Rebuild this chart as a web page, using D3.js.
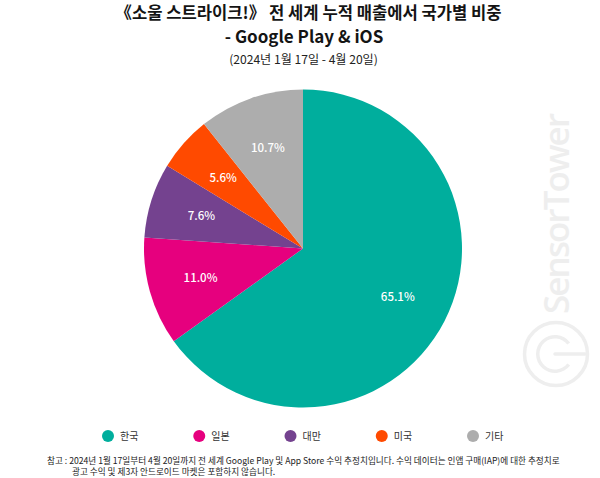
<!DOCTYPE html>
<html><head><meta charset="utf-8">
<script src="https://cdn.jsdelivr.net/npm/d3@7/dist/d3.min.js"></script>
<style>html,body{margin:0;padding:0;background:#fff}svg{display:block}text{font-family:"Noto Sans CJK KR","Noto Sans",sans-serif}</style>
</head><body><svg id="c" width="600" height="478"></svg>
<script>
const categories=["한국","일본","대만","미국","기타"];
const values=[65.1,11.0,7.6,5.6,10.7];
const colors=["#00ae9d","#e6007e","#74428f","#ff4a00","#adadad"];
const titleLines=["《소울 스트라이크!》 전 세계 누적 매출에서 국가별 비중","- Google Play & iOS"];
const subtitle="(2024년 1월 17일 - 4월 20일)";
const noteLines=["참고 : 2024년 1월 17일부터 4월 20일까지 전 세계 Google Play 및 App Store 수익 추정치입니다. 수익 데이터는 인앱 구매(IAP)에 대한 추정치로","광고 수익 및 제3자 안드로이드 마켓은 포함하지 않습니다."];

const svg=d3.select("#c");
// watermark
const wmc="#eeeeee";
const wm=svg.append("g").attr("fill","none").attr("stroke",wmc);
wm.append("circle").attr("cx",556).attr("cy",354).attr("r",31.5).attr("stroke-width",3.5);
wm.append("path").attr("d",d3.arc()({innerRadius:15.5,outerRadius:19,startAngle:0.65,endAngle:5.63})).attr("transform","translate(555,354) rotate(90)").attr("fill",wmc).attr("stroke","none");
wm.append("path").attr("d","M555 354H585").attr("stroke-width",3.5).attr("stroke-linecap","round");
svg.append("text").attr("transform","translate(569,314) rotate(-90)").attr("font-size",35).attr("font-weight",600).attr("fill",wmc).attr("textLength",201).style("font-family","'Open Sans'").text("SensorTower");

// titles
svg.selectAll("text.t").data(titleLines).join("text").attr("class","t").attr("x",(d,i)=>i?304:308.5).attr("y",(d,i)=>19+i*24)
 .attr("text-anchor","middle").attr("font-size",(d,i)=>i?17:16.6).attr("font-weight",700).attr("fill","#141414").text(d=>d);
svg.append("text").attr("x",303.5).attr("y",64).attr("text-anchor","middle").attr("font-size",12.1).attr("fill","#222").text(subtitle);

// pie
const cx=303,cy=248.5,r=159;
const pie=d3.pie().value(d=>d).sort(null);
const arc=d3.arc().innerRadius(0).outerRadius(r);
const g=svg.append("g").attr("transform",`translate(${cx},${cy})`);
const arcs=pie(values);
g.selectAll("path").data(arcs).join("path").attr("d",arc).attr("fill",(d,i)=>colors[i]);
const lab=d3.arc().innerRadius(r*0.67).outerRadius(r*0.67);
g.selectAll("text").data(arcs).join("text").attr("transform",d=>`translate(${lab.centroid(d)})`)
 .attr("text-anchor","middle").attr("dy","0.35em").attr("font-size",11.5).attr("font-weight",500).attr("fill","#fff").text(d=>d.value.toFixed(1)+"%");

// legend
const lx=d3.scalePoint().domain(categories).range([108,473]);
const lg=svg.append("g").selectAll("g").data(categories).join("g").attr("transform",d=>`translate(${lx(d)},436)`);
lg.append("circle").attr("r",6).attr("fill",(d,i)=>colors[i]);
lg.append("text").attr("x",12).attr("dy","0.35em").attr("font-size",10).attr("fill","#333").text(d=>d);

// note
svg.selectAll("text.n").data(noteLines).join("text").attr("class","n").attr("x",(d,i)=>i?72:47).attr("y",(d,i)=>464+i*11)
 .attr("font-size",8.65).attr("fill","#222").text(d=>d);
</script></body></html>
